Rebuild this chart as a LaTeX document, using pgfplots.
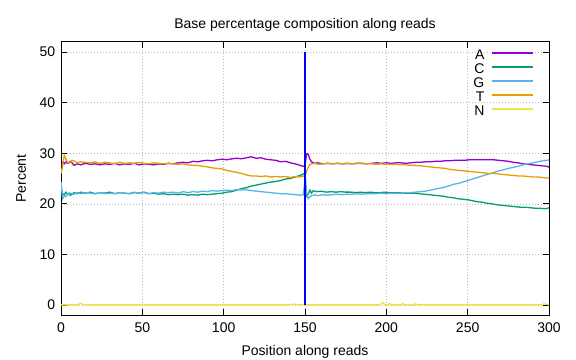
\documentclass[border=0pt]{standalone}
\usepackage{pgfplots}
\pgfplotsset{compat=1.18}
\usepackage{fontspec}
\setmainfont{Liberation Sans}
\definecolor{cA}{HTML}{9400D3}
\definecolor{cC}{HTML}{009E73}
\definecolor{cG}{HTML}{56B4E9}
\definecolor{cT}{HTML}{E69F00}
\definecolor{cN}{HTML}{F0E442}
\definecolor{cB}{HTML}{0000FF}
\begin{document}
\fontsize{14bp}{16bp}\selectfont
\begin{tikzpicture}
\begin{axis}[
  at={(61bp,45bp)}, anchor=south west,
  scale only axis, width=488bp, height=273bp,
  xmin=0, xmax=300, ymin=-2, ymax=52,
  xtick={0,50,...,300}, ytick={0,10,...,50},
  tick align=inside, major tick length=6bp,
  tick style={black, line width=0.6bp},
  axis line style={line width=1bp},
  grid=major, major grid style={gray!55, line width=0.5bp, dash pattern=on 0.6bp off 2.4bp},
  /pgf/number format/assume math mode=true,
  ticklabel style={font=\fontsize{14bp}{16bp}\selectfont},
  xticklabel style={yshift=-3bp},
  yticklabel style={xshift=-1bp},
  xlabel={Position along reads}, ylabel={Percent},
  title={Base percentage composition along reads},
  title style={font=\fontsize{14bp}{16bp}\selectfont, yshift=0bp},
  xlabel style={yshift=-3bp}, ylabel style={yshift=4bp},
  legend cell align=right,
  legend plot pos=right,
  legend style={draw=none, fill=none, at={(0.969,0.975)}, anchor=north east,
     inner sep=0pt, font=\fontsize{14bp}{14bp}\selectfont, row sep=0pt,
     nodes={inner sep=0pt, text height=10bp, text depth=4bp},
     /tikz/every odd column/.append style={column sep=7bp}},
  legend image code/.code={\draw[#1, line width=1.3bp] (0bp,3bp) -- (41bp,3bp);},
  every axis plot/.append style={line width=1.3bp},
]
\addplot[cA] coordinates {(0,27.6)(1,28.2)(2,27.9)(3,28.3)(4,28.0)(6,28.4)(8,27.6)(10,27.9)(12,27.7)(15,28.0)(18,27.8)(21,27.9)(24,27.7)(27,27.9)(30,27.8)(33,28.0)(36,27.7)(39,27.9)(42,27.8)(45,28.0)(48,27.7)(51,27.9)(54,27.8)(57,27.7)(60,27.9)(63,27.8)(66,28.0)(69,27.9)(72,28.1)(75,28.2)(78,28.1)(81,28.4)(84,28.3)(87,28.5)(90,28.6)(93,28.5)(96,28.7)(99,28.8)(102,28.7)(105,28.9)(108,29.0)(111,28.9)(114,29.1)(117,29.3)(120,29.0)(123,29.1)(126,28.8)(129,28.7)(132,28.6)(135,28.3)(138,28.4)(141,28.1)(144,27.9)(147,27.6)(149,27.4)(150,27.5)(151,29.9)(152,29.8)(153,28.8)(154,28.3)(156,28.0)(158,28.1)(161,27.9)(164,28.0)(167,27.9)(170,28.0)(173,27.9)(176,28.0)(179,27.9)(182,28.0)(185,28.0)(188,27.9)(191,28.0)(194,28.1)(197,28.0)(200,28.1)(203,28.0)(206,28.1)(209,28.1)(212,28.0)(215,28.1)(218,28.2)(221,28.2)(224,28.3)(227,28.3)(230,28.4)(233,28.4)(236,28.5)(239,28.5)(242,28.6)(245,28.6)(248,28.6)(251,28.7)(254,28.7)(257,28.7)(260,28.7)(263,28.7)(266,28.7)(269,28.6)(272,28.5)(275,28.4)(278,28.2)(281,28.1)(284,27.9)(287,27.8)(290,27.7)(293,27.6)(296,27.5)(299,27.4)(300,27.2)};
\addlegendentry{A}
\addplot[cC] coordinates {(0,23.0)(1,22.0)(2,21.8)(3,22.3)(4,21.9)(5,22.1)(6,21.7)(8,22.2)(10,22.0)(12,22.3)(15,22.1)(18,22.3)(21,22.0)(24,22.2)(27,22.1)(30,22.3)(33,22.0)(36,22.2)(39,22.1)(42,22.0)(45,22.2)(48,22.1)(51,22.3)(54,22.0)(57,22.1)(60,21.9)(63,22.0)(66,21.8)(69,21.9)(72,21.8)(75,21.9)(78,21.7)(81,21.8)(84,21.7)(87,21.9)(90,21.8)(93,21.9)(96,22.0)(99,22.1)(102,22.3)(105,22.4)(108,22.7)(111,23.0)(114,23.2)(117,23.5)(120,23.7)(123,23.9)(126,24.1)(129,24.3)(132,24.4)(135,24.6)(138,24.9)(141,25.0)(144,25.3)(147,25.6)(149,25.9)(150,26.1)(151,21.5)(152,21.9)(153,22.7)(154,22.1)(155,22.6)(157,22.4)(160,22.5)(163,22.3)(166,22.4)(169,22.3)(172,22.4)(175,22.3)(178,22.3)(181,22.2)(184,22.3)(187,22.2)(190,22.3)(193,22.2)(196,22.2)(199,22.3)(202,22.2)(205,22.2)(208,22.2)(211,22.1)(214,22.1)(217,22.1)(220,22.0)(223,21.9)(226,21.8)(229,21.7)(232,21.6)(235,21.5)(238,21.3)(241,21.2)(244,21.0)(247,20.9)(250,20.8)(253,20.6)(256,20.4)(259,20.3)(262,20.1)(265,20.0)(268,19.8)(271,19.7)(274,19.6)(277,19.5)(280,19.4)(283,19.3)(286,19.3)(289,19.2)(292,19.1)(295,19.1)(298,19.0)(300,19.2)};
\addlegendentry{C}
\addplot[cG] coordinates {(0,24.4)(1,21.0)(2,21.6)(3,21.4)(4,22.0)(5,21.7)(6,22.1)(8,21.9)(10,22.2)(12,22.0)(15,22.2)(18,22.1)(21,22.0)(24,22.2)(27,22.0)(30,22.1)(33,22.0)(36,22.2)(39,22.1)(42,22.0)(45,22.3)(48,22.1)(51,22.2)(54,22.0)(57,22.2)(60,22.1)(63,22.3)(66,22.2)(69,22.3)(72,22.1)(75,22.4)(78,22.2)(81,22.4)(84,22.3)(87,22.5)(90,22.4)(93,22.6)(96,22.5)(99,22.6)(102,22.7)(105,22.6)(108,22.8)(111,22.7)(114,22.8)(117,22.6)(120,22.5)(123,22.4)(126,22.3)(129,22.2)(132,22.1)(135,22.0)(138,22.0)(141,21.9)(144,21.8)(147,21.7)(149,21.8)(150,24.7)(151,22.0)(152,21.0)(153,21.4)(154,21.6)(156,21.8)(158,21.6)(161,21.8)(164,21.7)(167,21.8)(170,21.9)(173,21.8)(176,21.9)(179,21.9)(182,22.0)(185,21.9)(188,22.0)(191,22.0)(194,22.0)(197,22.1)(200,22.0)(203,22.1)(206,22.1)(209,22.1)(212,22.2)(215,22.2)(218,22.3)(221,22.4)(224,22.5)(227,22.7)(230,22.9)(233,23.1)(236,23.3)(239,23.6)(242,23.9)(245,24.1)(248,24.4)(251,24.7)(254,25.0)(257,25.3)(260,25.6)(263,25.9)(266,26.2)(269,26.5)(272,26.7)(275,27.0)(278,27.2)(281,27.4)(284,27.7)(287,27.9)(290,28.1)(293,28.3)(296,28.5)(299,28.6)(300,28.7)};
\addlegendentry{G}
\addplot[cT] coordinates {(0,26.0)(1,27.5)(2,29.6)(3,28.9)(4,28.2)(5,28.0)(6,28.3)(7,28.6)(8,28.5)(10,28.1)(12,28.3)(15,28.2)(18,28.1)(21,28.3)(24,28.0)(27,28.2)(30,28.1)(33,27.9)(36,28.2)(39,28.0)(42,28.1)(45,28.0)(48,28.2)(51,28.0)(54,27.9)(57,28.1)(60,28.0)(63,27.9)(66,28.0)(69,27.9)(72,27.8)(75,27.9)(78,27.7)(81,27.6)(84,27.6)(87,27.4)(90,27.3)(93,27.1)(96,27.0)(99,26.9)(102,26.6)(105,26.4)(108,26.2)(111,26.0)(114,25.7)(117,25.5)(120,25.5)(123,25.4)(126,25.5)(129,25.3)(132,25.4)(135,25.3)(138,25.4)(141,25.2)(144,25.4)(147,25.3)(149,25.5)(150,25.4)(151,26.5)(152,27.2)(153,27.8)(154,27.9)(156,28.0)(158,27.8)(161,27.9)(164,28.0)(167,27.9)(170,28.0)(173,27.9)(176,28.0)(179,27.9)(182,28.0)(185,27.9)(188,27.9)(191,27.9)(194,27.8)(197,27.9)(200,27.8)(203,27.8)(206,27.8)(209,27.7)(212,27.7)(215,27.6)(218,27.6)(221,27.5)(224,27.4)(227,27.3)(230,27.2)(233,27.1)(236,27.0)(239,26.8)(242,26.7)(245,26.6)(248,26.5)(251,26.4)(254,26.3)(257,26.2)(260,26.1)(263,26.0)(266,26.0)(269,25.9)(272,25.8)(275,25.7)(278,25.6)(281,25.5)(284,25.5)(287,25.4)(290,25.3)(293,25.3)(296,25.2)(299,25.1)(300,25.1)};
\addlegendentry{T}
\addplot[cN] coordinates {(0,0)(10,0)(12,0.3)(14,0)(140,0)(143,0.15)(146,0)(196,0)(198,0.5)(199,0)(201,0)(202,0.3)(203,0)(209,0)(210,0.3)(211,0)(217,0)(218,0.3)(219,0)(295,0)(297,0.2)(300,0)};
\addlegendentry{N}
\addplot[color=cB, line width=1.5bp, forget plot] coordinates {(150,0)(150,50)};
\end{axis}
\pgfresetboundingbox
\path[use as bounding box] (0,0) rectangle (576bp,360bp);
\end{tikzpicture}
\end{document}
